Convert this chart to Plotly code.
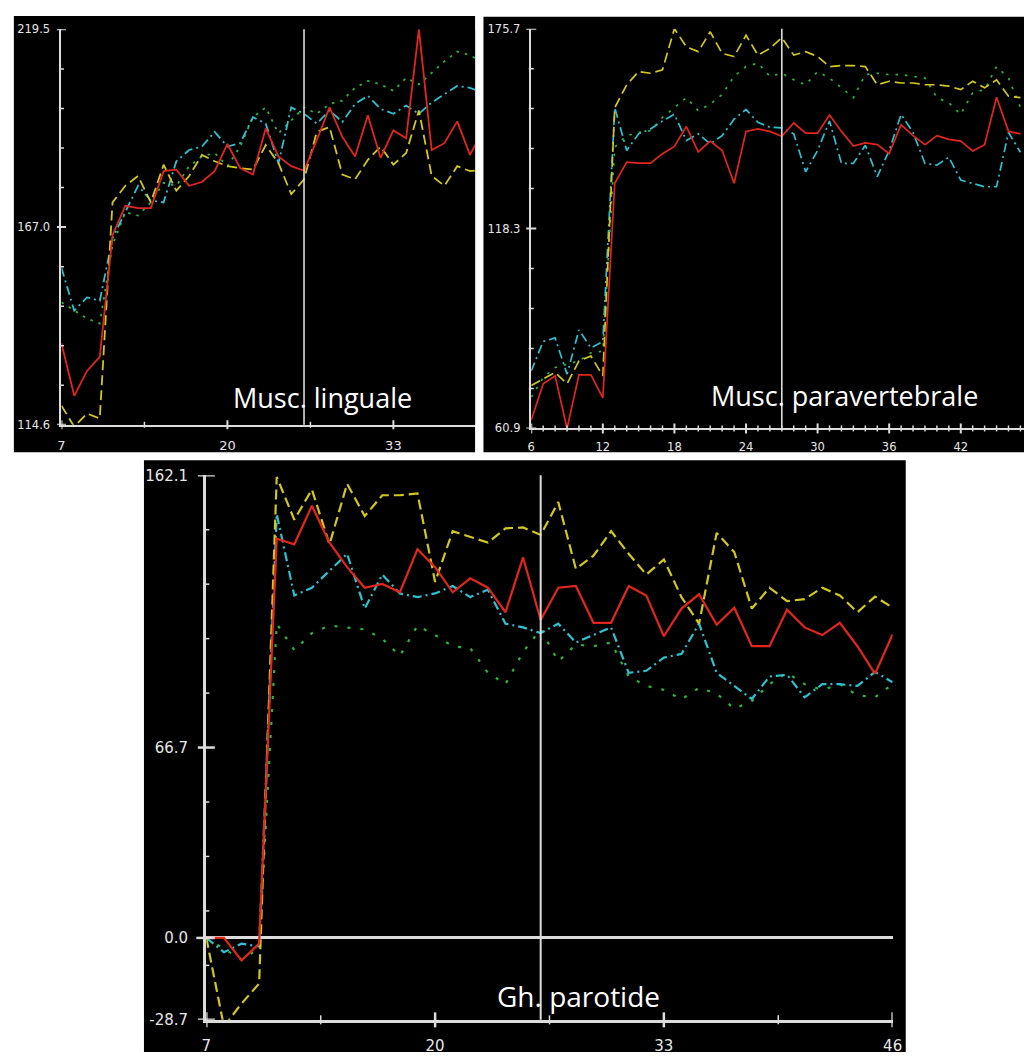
import numpy as np
import plotly.graph_objects as go

W, H = 1034, 1061

# ---------------- data: Musc. linguale ----------------
ling_x = list(range(7, 41))
ling_red = [136.2, 122.3, 128.9, 132.6, 164.9, 172.7, 172.1, 172.1, 181.9, 182.3,
            178.0, 179.0, 181.9, 189.1, 182.7, 181.0, 193.2, 185.8, 183.2, 182.0,
            190.1, 198.8, 191.0, 185.8, 196.7, 185.4, 192.7, 190.6, 219.5, 187.5,
            189.3, 195.1, 186.2, 192.7]
ling_yellow = [119.7, 114.1, 117.6, 116.3, 173.6, 178.0, 180.6, 173.6, 183.6, 176.7,
               180.6, 186.2, 184.5, 183.2, 182.7, 182.3, 188.8, 184.0, 175.8, 179.7,
               192.3, 193.6, 181.0, 179.7, 184.9, 188.4, 183.6, 186.7, 198.0, 180.6,
               178.0, 183.2, 181.9, 182.3]
ling_cyan = [156.2, 144.9, 148.4, 147.5, 164.1, 171.0, 178.0, 174.1, 173.6, 184.5,
             187.5, 188.4, 192.3, 188.4, 189.3, 196.2, 194.5, 184.0, 198.8, 197.1,
             194.5, 198.0, 194.9, 199.7, 201.9, 198.4, 197.1, 199.3, 197.1, 200.1,
             202.3, 204.5, 204.0, 202.7]
ling_green = [147.1, 144.9, 142.8, 141.5, 162.3, 171.0, 170.1, 173.6, 178.8, 178.0,
              183.2, 185.8, 186.7, 183.2, 188.4, 196.2, 198.8, 191.9, 195.4, 198.8,
              197.1, 199.7, 200.6, 204.0, 205.8, 204.9, 203.2, 206.6, 204.9, 208.0,
              211.0, 213.6, 212.7, 210.6]
ling_xticks = [7, 20, 33]
ling_xminor = [13.5, 26.5]
ling_yticks = [114.6, 167.05, 219.5]
ling_ylabels = ["114.6", "167.0", "219.5"]
ling_marker = 26

# ---------------- data: Musc. paravertebrale ----------------
para_x = list(range(6, 48))
para_red = [63.3, 73.7, 76.0, 60.9, 76.3, 76.3, 69.7, 131.3, 137.4, 137.1,
            137.1, 139.8, 141.9, 147.6, 140.3, 143.4, 140.7, 131.3, 146.2, 146.9,
            146.2, 144.8, 148.6, 145.7, 145.7, 150.9, 146.2, 142.0, 142.9, 142.4,
            139.8, 148.1, 145.0, 142.4, 145.0, 143.9, 143.4, 140.6, 142.4, 156.0,
            146.2, 145.5]
para_yellow = [73.2, 75.1, 77.0, 73.7, 80.3, 81.7, 76.0, 153.0, 159.6, 163.4,
               162.9, 163.9, 175.7, 170.5, 169.1, 174.8, 168.6, 167.7, 173.8, 168.1,
               170.0, 173.1, 168.1, 169.1, 167.7, 164.8, 165.1, 165.1, 164.8, 159.6,
               160.6, 160.1, 160.1, 159.6, 159.6, 159.2, 158.2, 160.6, 158.7, 161.0,
               156.3, 155.9]
para_cyan = [77.4, 85.9, 86.9, 76.5, 89.2, 84.0, 85.9, 153.0, 140.7, 145.5,
             146.9, 149.2, 151.1, 143.6, 145.5, 142.6, 145.0, 149.7, 152.5, 148.8,
             147.4, 147.2, 145.5, 134.6, 140.7, 149.2, 137.0, 137.0, 142.2, 133.2,
             140.7, 151.1, 145.9, 137.0, 136.5, 138.8, 132.2, 131.3, 130.3, 130.3,
             145.9, 140.2]
para_green = [69.9, 75.5, 78.4, 79.3, 80.3, 82.6, 83.1, 141.7, 145.0, 145.9,
              146.4, 150.2, 153.0, 155.9, 152.1, 154.0, 156.8, 162.0, 164.8, 165.8,
              162.0, 162.9, 161.0, 159.6, 163.4, 161.5, 158.7, 155.9, 162.5, 162.9,
              162.5, 162.5, 162.0, 161.5, 155.9, 154.4, 151.1, 157.3, 158.2, 164.8,
              161.5, 153.0]
para_xticks = [6, 12, 18, 24, 30, 36, 42]
para_xminor = [v for v in range(7, 48) if v % 6 != 0]
para_yticks = [60.9, 118.3, 175.7]
para_ylabels = ["60.9", "118.3", "175.7"]
para_marker = 27

# ---------------- data: Gh. parotide ----------------
paro_x = list(range(7, 47))
paro_red = [0.0, 0.0, -7.9, -2.0, 139.9, 137.9, 151.4, 138.5, 129.9, 122.7,
            124.0, 121.1, 136.2, 129.9, 121.1, 126.0, 122.7, 114.1, 133.3, 111.4,
            122.7, 123.3, 110.4, 110.4, 123.3, 120.0, 105.7, 115.4, 120.4, 109.7,
            115.7, 102.2, 102.2, 115.0, 108.8, 106.1, 110.4, 102.2, 92.5, 106.4]
paro_yellow = [0.0, -31.0, -23.0, -16.0, 161.5, 146.5, 157.1, 137.9, 159.1, 147.8,
               155.1, 155.1, 155.7, 124.7, 142.5, 140.5, 138.5, 143.5, 143.8, 141.2,
               152.7, 129.3, 133.9, 142.5, 134.6, 127.3, 132.6, 119.4, 110.1, 141.9,
               135.2, 115.4, 122.7, 118.0, 118.7, 122.7, 120.0, 114.1, 119.6, 115.7]
paro_cyan = [0.0, -5.0, -2.0, -3.0, 148.5, 120.0, 122.7, 128.6, 134.6, 115.4,
             127.3, 120.7, 119.4, 120.7, 123.3, 119.4, 122.0, 110.1, 108.8, 106.8,
             110.1, 103.5, 106.1, 108.8, 92.9, 93.6, 98.2, 99.5, 110.1, 92.9,
             88.3, 83.7, 91.6, 92.2, 84.3, 88.9, 88.9, 88.3, 93.2, 89.6]
paro_green = [0.0, -3.7, -7.6, -3.7, 110.1, 100.8, 106.8, 109.4, 108.8, 108.1,
              104.8, 98.8, 109.4, 106.1, 102.2, 101.5, 92.9, 88.9, 100.2, 108.1,
              96.9, 102.8, 102.2, 103.5, 91.6, 88.3, 86.9, 83.6, 87.6, 85.6,
              80.3, 83.0, 88.9, 92.9, 88.9, 86.9, 88.9, 85.0, 84.3, 88.9]
paro_xticks = [7, 20, 33, 46]
paro_xminor = [13.5, 26.5, 39.5]
paro_yticks = [-28.7, 0.0, 66.7, 162.1]
paro_ylabels = ["-28.7", "0.0", "66.7", "162.1"]
paro_marker = 26

titles = ["Musc. linguale", "Musc. paravertebrale", "Gh. parotide"]

RED, YEL, CYA, GRN = "#e2261c", "#d2c81c", "#2cc2d2", "#25b640"
AXC = "#dcdcdc"
TXC = "#e6e6e6"

# ---------------- layout geometry (pixels) ----------------
panels = [
    dict(x=ling_x, series=(ling_green, ling_cyan, ling_yellow, ling_red),
         bg=(9, 7, 477, 451), dom_x=(57.3, 477), dom_y=(423, 20.7),
         xr=(7, 39.4), yr=(114.6, 219.5), xt=ling_xticks, xm=ling_xminor,
         yt=ling_yticks, yl=ling_ylabels, marker=ling_marker,
         fs_y=11.5, fs_x=13, ylen=7, xlen=7.5, lw=1.8, alw=2,
         maj=4.5, mnr=2.5, xmaj=4.5, xmnr=3, gdash="2.5px,6px"),
    dict(x=para_x, series=(para_green, para_cyan, para_yellow, para_red),
         bg=(485.5, 8, 1034, 451), dom_x=(534, 1034), dom_y=(426.7, 20),
         xr=(6, 47.3), yr=(60.9, 175.7), xt=para_xticks, xm=para_xminor,
         yt=para_yticks, yl=para_ylabels, marker=para_marker,
         fs_y=11.5, fs_x=11.5, ylen=6.5, xlen=6.8, lw=1.7, alw=2,
         maj=5, mnr=2.5, xmaj=5, xmnr=3, gdash="2.5px,7px"),
    dict(x=paro_x, series=(paro_green, paro_cyan, paro_yellow, paro_red),
         bg=(141, 459, 914, 1061), dom_x=(204.3, 900.7), dom_y=(1028.3, 474.3),
         xr=(7, 46), yr=(-28.7, 162.1), xt=paro_xticks, xm=paro_xminor,
         yt=paro_yticks, yl=paro_ylabels, marker=paro_marker,
         fs_y=15, fs_x=15, ylen=12.5, xlen=10, lw=2.2, alw=2.5,
         maj=8.5, mnr=3, xmaj=7.5, xmnr=4.5, gdash="3px,10px"),
]
text_pos = [(229, 395, 27), (714, 393, 27), (497, 1004, 28)]

fig = go.Figure()
shapes = []
annotations = []
layout = {}

for i, p in enumerate(panels):
    n = "" if i == 0 else str(i + 1)
    xa, ya = "x" + n, "y" + n
    styles = [dict(color=GRN, dash=p["gdash"]), dict(color=CYA, dash="9px,4px,2px,4px"),
              dict(color=YEL, dash="10px,5px"), dict(color=RED, dash="solid")]
    # black panel background
    x0, y0, x1, y1 = p["bg"]
    shapes.append(dict(type="rect", xref="paper", yref="paper", layer="below",
                       x0=x0 / W, x1=x1 / W, y0=1 - y1 / H, y1=1 - y0 / H,
                       fillcolor="black", line=dict(width=0)))
    # traces
    for ser, st in zip(p["series"], styles):
        fig.add_trace(go.Scatter(x=p["x"], y=ser, mode="lines", xaxis=xa, yaxis=ya,
                                 line=dict(color=st["color"], width=p["lw"], dash=st["dash"]),
                                 showlegend=False, hoverinfo="skip"))
    # axes
    layout["xaxis" + n] = dict(
        domain=[p["dom_x"][0] / W, p["dom_x"][1] / W], range=list(p["xr"]), anchor=ya,
        showgrid=False, zeroline=False, showline=True, linecolor=AXC, linewidth=p["alw"],
        ticks="outside", ticklen=p["xlen"], tickcolor="rgba(0,0,0,0)",
        tickvals=p["xt"], ticktext=[str(v) for v in p["xt"]],
        tickfont=dict(family="DejaVu Sans", size=p["fs_x"], color=TXC), fixedrange=True)
    layout["yaxis" + n] = dict(
        domain=[1 - p["dom_y"][0] / H, 1 - p["dom_y"][1] / H], range=list(p["yr"]), anchor=xa,
        showgrid=False, showline=True, linecolor=AXC, linewidth=p["alw"],
        zeroline=(i == 2), zerolinecolor=AXC, zerolinewidth=p["alw"],
        ticks="outside", ticklen=p["ylen"], tickcolor="rgba(0,0,0,0)",
        tickvals=p["yt"], ticktext=p["yl"],
        tickfont=dict(family="DejaVu Sans", size=p["fs_y"], color=TXC), fixedrange=True)
    # y tick marks (crossing the axis)
    ymin, ymax = p["yr"]
    yminor = [v for k, v in enumerate(np.linspace(ymin, ymax, 11)) if k not in (0, 5, 10)]
    for v in p["yt"]:
        left = 10 if v == 0 and i == 2 else p["maj"]
        shapes.append(dict(type="line", xref=xa + " domain", yref=ya, xsizemode="pixel",
                           xanchor=0, x0=-left, x1=p["maj"], y0=v, y1=v,
                           line=dict(color=AXC, width=p["alw"])))
    for v in yminor:
        shapes.append(dict(type="line", xref=xa + " domain", yref=ya, xsizemode="pixel",
                           xanchor=0, x0=-p["mnr"], x1=p["mnr"], y0=v, y1=v,
                           line=dict(color=AXC, width=1.5)))
    # x tick marks
    for v in p["xt"]:
        shapes.append(dict(type="line", xref=xa, yref=ya + " domain", ysizemode="pixel",
                           yanchor=0, y0=-p["xmaj"], y1=p["xmaj"], x0=v, x1=v,
                           line=dict(color=AXC, width=p["alw"])))
    for v in p["xm"]:
        shapes.append(dict(type="line", xref=xa, yref=ya + " domain", ysizemode="pixel",
                           yanchor=0, y0=-p["xmnr"], y1=p["xmnr"], x0=v, x1=v,
                           line=dict(color=AXC, width=1.5)))
    # vertical marker line
    shapes.append(dict(type="line", xref=xa, yref=ya + " domain", x0=p["marker"], x1=p["marker"],
                       y0=0, y1=1, line=dict(color=AXC, width=1.6 if i < 2 else 2)))
    # panel title
    tx, ty, fs = text_pos[i]
    annotations.append(dict(text=titles[i], xref="paper", yref="paper", x=tx / W, y=1 - ty / H,
                            xanchor="left", yanchor="middle", showarrow=False,
                            font=dict(family="Open Sans", size=fs, color="white")))

fig.update_layout(**layout)
fig.update_layout(width=W, height=H, margin=dict(l=0, r=0, t=0, b=0),
                  paper_bgcolor="white", plot_bgcolor="black",
                  shapes=shapes, annotations=annotations, showlegend=False)
fig.write_html("out.html")
